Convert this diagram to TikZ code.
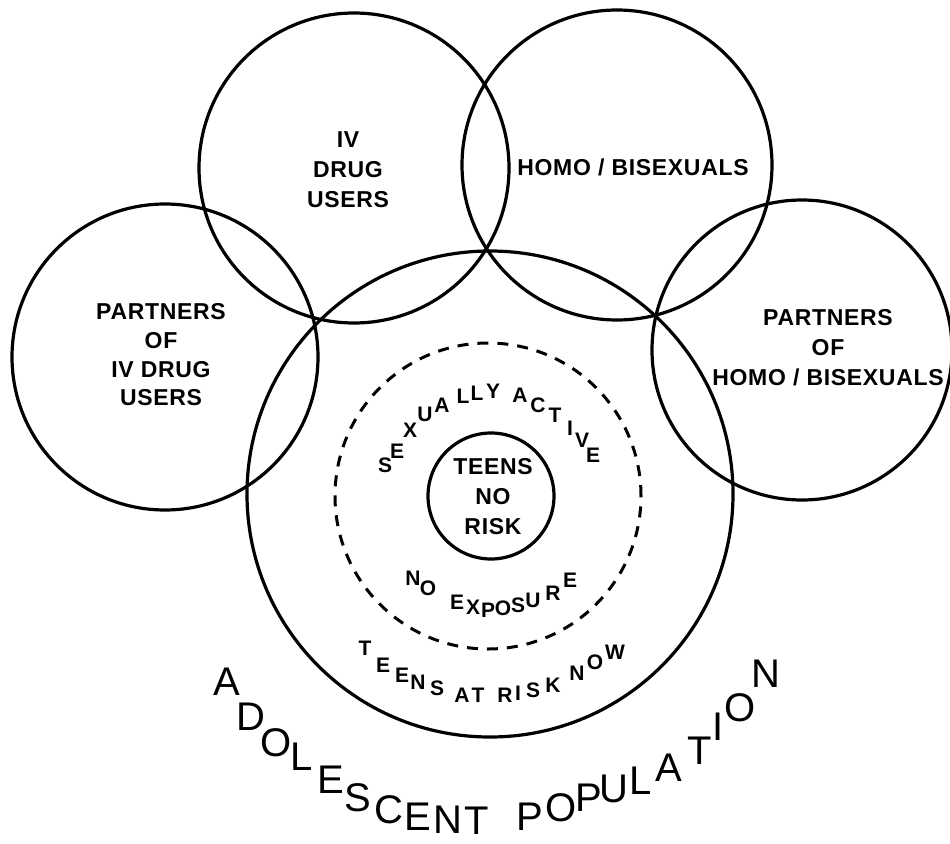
\documentclass[tikz,border=0pt]{standalone}
\usepackage{fontspec}
\setmainfont{Liberation Sans}
\newfontfamily\labfont{Liberation Sans}[LetterSpace=3]
\begin{document}
\begin{tikzpicture}[x=1pt,y=-1pt,
  ring/.style={circle, draw, line width=3.2pt, inner sep=0pt, outer sep=0pt},
  dring/.style={ring, dash pattern=on 11pt off 9pt, line width=3pt},
  lab/.style={font=\labfont\bfseries\fontsize{23}{30}\selectfont, align=center, inner sep=0pt},
  arcch/.style={font=\bfseries\fontsize{21}{24}\selectfont, inner sep=0pt},
  bigch/.style={font=\fontsize{40}{48}\selectfont, inner sep=0pt}]
\useasboundingbox (0,0) rectangle (950,843);
% circles
\node[ring, minimum size=310pt] (iv) at (354,168) {};
\node[ring, minimum size=310pt] (hb) at (617,165) {};
\node[ring, minimum size=306pt] (piv) at (165,357) {};
\node[ring, minimum size=300pt] (phb) at (802,350) {};
\node[ring, minimum size=486pt] (ado) at (490,494) {};
\node[dring, minimum size=306pt] (sex) at (488,496) {};
\node[ring, minimum size=126pt] (nor) at (491,496) {};
% labels
\node[lab] (tiv) at (348,170) {IV\\DRUG\\USERS};
\node[lab] (thb) at (633,167) {HOMO / BISEXUALS};
\node[lab, font=\labfont\bfseries\fontsize{23}{28.7}\selectfont] (tpiv) at (161,355) {PARTNERS\\OF\\IV DRUG\\USERS};
\node[lab] (tphb) at (828,348) {PARTNERS\\OF\\HOMO / BISEXUALS};
\node[lab] (tnor) at (493,497) {TEENS\\NO\\RISK};
% arc texts
\foreach \ch/\x/\y [count=\i] in {S/385/465,E/397/451,X/410/430,U/425/414,A/442/405,L/463/396,L/477/393,Y/493/391,A/520/395,C/538/405,T/555/415,I/570/428,V/582/440,E/593/455}
  \node[arcch] (sa\i) at (\x,\y) {\ch};
\foreach \ch/\x/\y [count=\i] in {N/413/578,O/428/588,E/457/602,X/473/607,P/488/610,O/503/608,S/518/605,U/533/600,R/553/593,E/570/580}
  \node[arcch] (ne\i) at (\x,\y) {\ch};
\foreach \ch/\x/\y [count=\i] in {T/365/648,E/383/665,E/402/675,N/418/682,S/437/688,A/462/695,T/478/695,R/505/695,I/518/693,S/533/690,K/553/685,N/577/673,O/595/662,W/615/652}
  \node[arcch] (tr\i) at (\x,\y) {\ch};
\foreach \ch/\x/\y [count=\i] in {A/227/682,D/251/717,O/276/743,L/302/757,E/331/780,S/358/798,C/389/810,E/418/817,N/448/820,T/477/821,P/530/817,O/561/808,P/589/798,U/614/789,L/641/781,A/669/768,T/700/751,I/718/727,O/740/708,N/766/674}
  \node[bigch] (ap\i) at (\x,\y) {\ch};
\end{tikzpicture}
\end{document}
